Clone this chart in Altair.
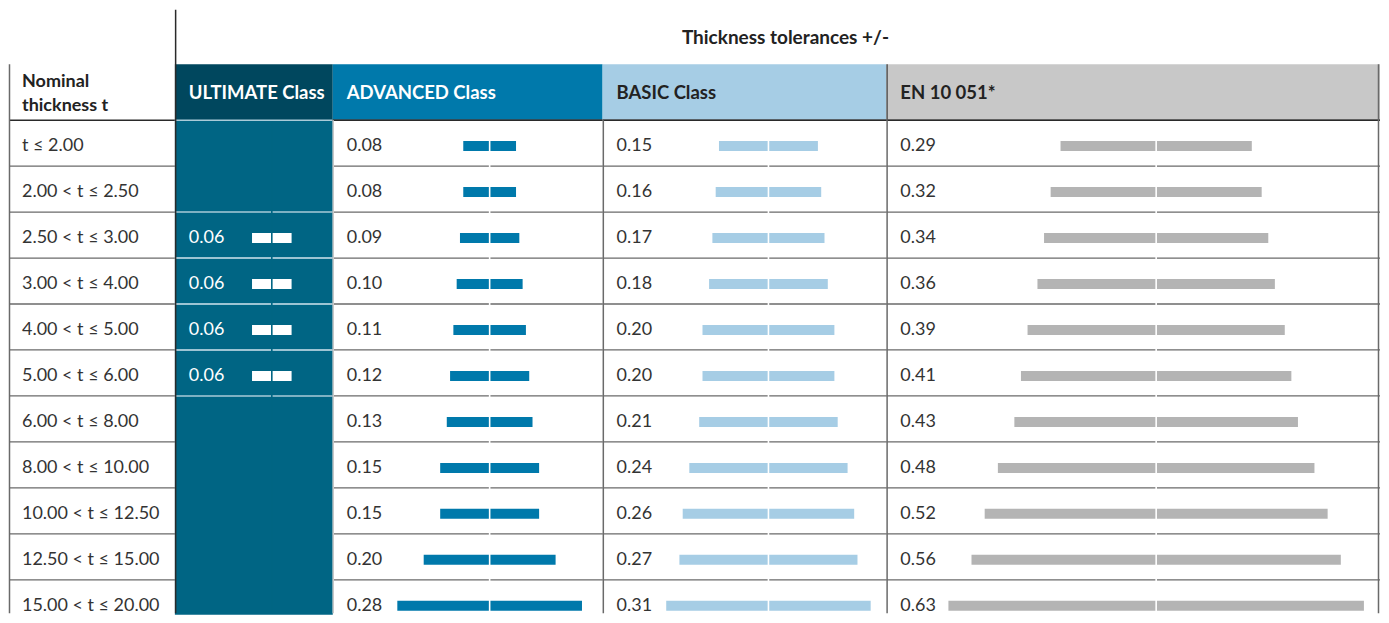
import altair as alt
import pandas as pd

# ---------------- data ----------------
rows = ["t ≤ 2.00", "2.00 < t ≤ 2.50", "2.50 < t ≤ 3.00", "3.00 < t ≤ 4.00",
        "4.00 < t ≤ 5.00", "5.00 < t ≤ 6.00", "6.00 < t ≤ 8.00", "8.00 < t ≤ 10.00",
        "10.00 < t ≤ 12.50", "12.50 < t ≤ 15.00", "15.00 < t ≤ 20.00"]
ultimate = [None, None, 0.06, 0.06, 0.06, 0.06, None, None, None, None, None]
advanced = [0.08, 0.08, 0.09, 0.10, 0.11, 0.12, 0.13, 0.15, 0.15, 0.20, 0.28]
basic = [0.15, 0.16, 0.17, 0.18, 0.20, 0.20, 0.21, 0.24, 0.26, 0.27, 0.31]
en10051 = [0.29, 0.32, 0.34, 0.36, 0.39, 0.41, 0.43, 0.48, 0.52, 0.56, 0.63]

headers = ["Nominal", "thickness t", "ULTIMATE Class", "ADVANCED Class", "BASIC Class", "EN 10 051*"]
title = "Thickness tolerances +/-"

df = pd.DataFrame({"row": rows, "ult": ultimate, "adv": advanced, "bas": basic, "en": en10051})
one = pd.DataFrame({"k": [0]})

# ---------------- layout / style ----------------
FONT = "Lato"
H = 607
HT, HB = 56, 112
PX_PER_UNIT = 330
yscale = alt.Scale(domain=rows, range=[112, 618], paddingInner=0, paddingOuter=0)
GRID = "#6a6a6a"
DARK = "#2a2a2a"
TXT = "#333333"
HSIZE = 18.5
BODY_DY = 3


def Y(**kw):
    return alt.Y("row:N", scale=yscale, axis=None, **kw)


def vline(x, y1, y2, color, sw=1.5):
    return alt.Chart(one).mark_rule(color=color, strokeWidth=sw).encode(
        x=alt.value(x), y=alt.value(y1), y2=alt.value(y2))


def hline(y, x1, x2, color, sw=1.5):
    return alt.Chart(one).mark_rule(color=color, strokeWidth=sw).encode(
        x=alt.value(x1), x2=alt.value(x2), y=alt.value(y))


def rect(x1, x2, y1, y2, color):
    return alt.Chart(one).mark_rect(color=color).encode(
        x=alt.value(x1), x2=alt.value(x2), y=alt.value(y1), y2=alt.value(y2))


def label(txt, x, y, color, size=HSIZE, weight="bold", align="left"):
    return alt.Chart(one).mark_text(
        align=align, baseline="middle", font=FONT, fontSize=size,
        fontWeight=weight, color=color).encode(
        x=alt.value(x), y=alt.value(y), text=alt.value(txt))


def row_rules(color, sw=1.3, filt=None, band=0.0, x1=None, x2=None):
    c = alt.Chart(df)
    if filt:
        c = c.transform_filter(filt)
    enc = dict(y=Y(bandPosition=band))
    if x1 is not None:
        enc.update(x=alt.value(x1), x2=alt.value(x2))
    return c.mark_rule(color=color, strokeWidth=sw).encode(**enc)


# ---------------- nominal column ----------------
NW = 167
nominal = alt.layer(
    row_rules(GRID, filt="datum.row != '%s'" % rows[0], x1=1.5, x2=NW),
    hline(HB, 1.5, NW, DARK),
    vline(1.5, HT, H - 1.5, GRID),
    alt.Chart(df).mark_text(align="left", baseline="middle", font=FONT, fontSize=18,
                            color=TXT, dy=BODY_DY).encode(x=alt.value(14), y=Y(), text="row:N"),
    label(headers[0], 14, 74, "#222222", size=18),
    label(headers[1], 14, 98, "#222222", size=18),
).properties(width=NW, height=H)


def value_panel(field, w, center, header, head_fill, head_txt, bar_color, txt_color,
                gap_color, body_fill=None, light_rules=None, extra=None):
    xs = alt.Scale(domain=[-center / PX_PER_UNIT, (w - center) / PX_PER_UNIT],
                   nice=False, zero=False)
    valid = f"isValid(datum.{field})"
    layers = [rect(0, w, HT, HB, head_fill)]
    if body_fill:
        layers.append(rect(0, w, HB, H, body_fill))
        layers.append(row_rules(light_rules, sw=1.5, filt=valid, band=0.0))
        layers.append(row_rules(light_rules, sw=1.5, filt=valid, band=1.0))
        layers.append(hline(HB, 0, w, light_rules))
    else:
        layers.append(row_rules(GRID))
        layers.append(hline(HB, 0, w, DARK))
    if extra:
        layers.extend(extra)
    layers.append(
        alt.Chart(df).transform_filter(valid)
        .transform_calculate(lo=f"-datum.{field}")
        .mark_bar(color=bar_color, size=10, yOffset=3)
        .encode(x=alt.X("lo:Q", scale=xs, axis=None), x2=f"{field}:Q", y=Y()))
    layers.append(
        alt.Chart(one).mark_rule(color=gap_color, strokeWidth=1.6)
        .encode(x=alt.datum(0), y=alt.value(HB + 1.5), y2=alt.value(H - 1.6)))
    layers.append(
        alt.Chart(df).transform_filter(valid)
        .mark_text(align="left", baseline="middle", font=FONT, fontSize=18,
                   color=txt_color, dy=BODY_DY)
        .encode(x=alt.value(14), y=Y(), text=alt.Text(f"{field}:Q", format=".2f")))
    layers.append(label(header, 14, 85, head_txt))
    return alt.layer(*layers).properties(width=w, height=H)


UW, AW, BW, EW = 158, 270, 284, 494
ult_panel = value_panel(
    "ult", UW, 97, headers[2], "#00475e", "#ffffff", "#ffffff", "#ffffff", "#006584",
    body_fill="#006584", light_rules="#a9cbd8",
    extra=[vline(0.75, 1.5, H - 1.5, DARK)])
adv_panel = value_panel(
    "adv", AW, 157, headers[3], "#0079ab", "#ffffff", "#0079ab", TXT, "#ffffff",
    extra=[vline(0.5, HB, H - 1.5, "#c8c8c8")])
bas_panel = value_panel(
    "bas", BW, 166, headers[4], "#a6cde5", "#222222", "#a6cde5", TXT, "#ffffff",
    extra=[vline(0.75, HB, H - 1.5, GRID)])
en_panel = value_panel(
    "en", EW, 270, headers[5], "#c8c8c8", "#222222", "#b4b4b4", TXT, "#ffffff",
    extra=[vline(0.75, HB, H - 1.5, GRID), vline(0.75, HT, HB, "#555555"),
           vline(EW - 1.5, HT, H - 1.5, GRID),
           label(title, -101, 30, "#222222", size=19, align="center")])

chart = alt.hconcat(nominal, ult_panel, adv_panel, bas_panel, en_panel,
                    spacing=0, bounds="flush").properties(
    padding=0, background="white").configure_view(strokeWidth=0)

chart.save("out.html", embed_options={"renderer": "svg", "actions": False})
